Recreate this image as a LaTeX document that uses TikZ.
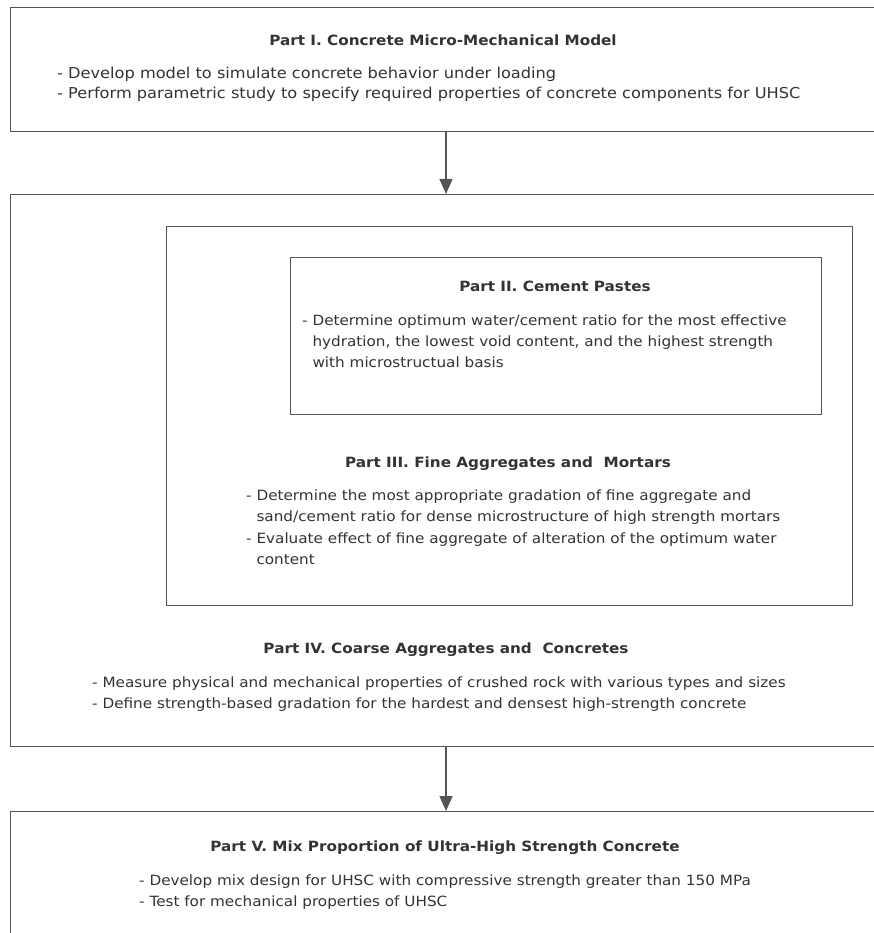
\documentclass[tikz,border=0pt]{standalone}
\usepackage{fontspec}
\setmainfont[FakeStretch=1.08]{DejaVu Sans}
\usetikzlibrary{arrows.meta}
\definecolor{linec}{HTML}{555555}
\definecolor{textc}{HTML}{333333}
\tikzset{
  box/.style={draw=linec, line width=1.2pt, anchor=north west, inner sep=0pt},
  ttl/.style={font=\fontsize{14.1}{20}\selectfont\bfseries, text=textc, inner sep=0pt, anchor=base},
  body/.style={font=\fontsize{14.1}{21}\selectfont, text=textc, inner sep=0pt, anchor=base west},
  bodyl/.style={font=\fontsize{15}{21}\selectfont, text=textc, inner sep=0pt, anchor=base west},
  arr/.style={draw=linec, line width=1.2pt, -{Triangle[length=15pt,width=13pt]}}
}
\newcommand{\ind}{\phantom{- }}
\begin{document}
\begin{tikzpicture}[x=1pt,y=-1pt]
\useasboundingbox (0,0) rectangle (874,933);
\clip (0,0) rectangle (874,933);
% boxes
\node[box, minimum width=880pt, minimum height=124pt] (b1) at (10,7) {};
\node[box, minimum width=880pt, minimum height=552pt] (b2) at (10,194) {};
\node[box, minimum width=686pt, minimum height=379pt] (b3) at (166,226) {};
\node[box, minimum width=531pt, minimum height=157pt] (b4) at (290,257) {};
\node[box, minimum width=880pt, minimum height=200pt] (b5) at (10,811) {};
% arrows
\coordinate (a1) at (446,131);
\coordinate (a2) at (446,746);
\draw[arr] (a1) -- (b2.north -| a1);
\draw[arr] (a2) -- (b5.north -| a2);
% Part I
\node[ttl] (t1) at (443,46) {Part I. Concrete Micro-Mechanical Model};
\node[bodyl] (x1a) at (57,79) {- Develop model to simulate concrete behavior under loading};
\node[bodyl] (x1b) at (57,99) {- Perform parametric study to specify required properties of concrete components for UHSC};
% Part II
\node[ttl] (t2) at (555,291) {Part II. Cement Pastes};
\node[body] (x2a) at (302,325) {- Determine optimum water/cement ratio for the most effective};
\node[body] (x2b) at (302,346) {\ind hydration, the lowest void content, and the highest strength};
\node[body] (x2c) at (302,367) {\ind with microstructual basis};
% Part III
\node[ttl] (t3) at (508,467) {Part III. Fine Aggregates and~~Mortars};
\node[body] (x3a) at (246,500) {- Determine the most appropriate gradation of fine aggregate and};
\node[body] (x3b) at (246,521) {\ind sand/cement ratio for dense microstructure of high strength mortars};
\node[body] (x3c) at (246,543) {- Evaluate effect of fine aggregate of alteration of the optimum water};
\node[body] (x3d) at (246,564) {\ind content};
% Part IV
\node[ttl] (t4) at (446,653) {Part IV. Coarse Aggregates and~~Concretes};
\node[body] (x4a) at (92,687) {- Measure physical and mechanical properties of crushed rock with various types and sizes};
\node[body] (x4b) at (92,708) {- Define strength-based gradation for the hardest and densest high-strength concrete};
% Part V
\node[ttl] (t5) at (445,851) {Part V. Mix Proportion of Ultra-High Strength Concrete};
\node[body] (x5a) at (139,885) {- Develop mix design for UHSC with compressive strength greater than 150 MPa};
\node[body] (x5b) at (139,906) {- Test for mechanical properties of UHSC};
\end{tikzpicture}
\end{document}
